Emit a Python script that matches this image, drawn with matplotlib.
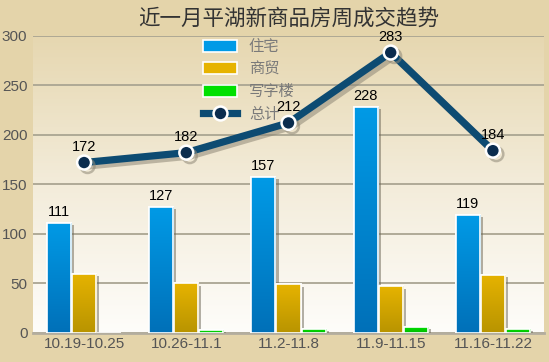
import numpy as np
import matplotlib.pyplot as plt
import matplotlib.patheffects as pe
from matplotlib.patches import Patch
from matplotlib.lines import Line2D
from matplotlib.colors import LinearSegmentedColormap

plt.rcParams['font.family'] = ['Liberation Sans', 'Noto Sans CJK SC', 'DejaVu Sans']

weeks = ['10.19-10.25', '10.26-11.1', '11.2-11.8', '11.9-11.15', '11.16-11.22']
residential = [111, 127, 157, 228, 119]
commercial = [60, 50, 49, 47, 59]
office = [0, 3, 4, 6, 4]
total = [172, 182, 212, 283, 184]
series_names = ['住宅', '商贸', '写字楼', '总计']

# gradient colours (top, bottom) per bar series
bar_styles = [
    ('#009ae6', '#0070b8'),
    ('#e6b300', '#b89400'),
    ('#00e000', '#00b800'),
]

outer_bg = '#e4d4aa'
fig = plt.figure(figsize=(5.49, 3.62), dpi=100, facecolor=outer_bg)
ax = fig.add_axes([33 / 549, 29 / 362, 511 / 549, 297.3 / 362])
ax.set_facecolor('none')

# plot area gradient background
bg = LinearSegmentedColormap.from_list('bg', ['#fefdfa', '#f3ecda', '#e6d7b0'])
grad = np.linspace(0, 1, 256).reshape(-1, 1)
ax.imshow(grad, cmap=bg, aspect='auto', extent=[0, 1, 0, 1], origin='lower',
          transform=ax.transAxes, zorder=0)

x = np.arange(len(weeks))
width = 0.235
offsets = [-0.245, 0, 0.245]
shadow = [pe.SimplePatchShadow(offset=(2.2, -1.5), shadow_rgbFace='#6b6555', alpha=0.5), pe.Normal()]

for vals, off, (ctop, cbot) in zip([residential, commercial, office], offsets, bar_styles):
    cmap = LinearSegmentedColormap.from_list('g', [cbot, ctop])
    bars = ax.bar(x + off, vals, width, color=ctop, edgecolor='white', linewidth=1.2,
                  zorder=3, path_effects=shadow)
    for b, v in zip(bars, vals):
        if v <= 0:
            continue
        x0, w, h = b.get_x(), b.get_width(), b.get_height()
        im = ax.imshow(grad, cmap=cmap, aspect='auto', extent=[x0, x0 + w, 0, h],
                       origin='lower', zorder=3.1)
        im.set_clip_path(b)
        ax.bar(b.get_x() + w / 2, h, w, color='none', edgecolor='white', linewidth=1.2, zorder=3.2)

for xi, v in zip(x + offsets[0], residential):
    ax.annotate(str(v), (xi, v), xytext=(0, 3), textcoords='offset points',
                ha='center', va='bottom', fontsize=10.5, color='black', zorder=6)

ax.plot(x, total, color='#0d4b72', lw=5.2, marker='o', markersize=10,
        markerfacecolor='#0a2c4e', markeredgecolor='white', markeredgewidth=1.8,
        solid_capstyle='round', zorder=5,
        path_effects=[pe.SimpleLineShadow(offset=(2.5, -2.5), shadow_color='#8f8877', alpha=0.55),
                      pe.Normal()])
for xi, v in zip(x, total):
    ax.annotate(str(v), (xi, v), xytext=(0, 6.5), textcoords='offset points',
                ha='center', va='bottom', fontsize=10.5, color='black', zorder=6)

ax.set_xlim(-0.5, 4.5)
ax.set_ylim(0, 300)
ax.set_yticks(range(0, 301, 50))
ax.set_xticks(x)
ax.set_xticklabels(weeks)
ax.yaxis.grid(True, color='#aaa592', lw=1.3, zorder=1)
ax.set_axisbelow(True)
for s in ['top', 'right', 'left']:
    ax.spines[s].set_visible(False)
ax.spines['bottom'].set_color('#b3ad9e')
ax.spines['bottom'].set_linewidth(2)
ax.spines['bottom'].set_zorder(2)
ax.tick_params(axis='both', length=0, labelsize=11, labelcolor='#555555')
ax.tick_params(axis='y', pad=4)
ax.tick_params(axis='x', pad=3)

handles = [Patch(facecolor=c[0], edgecolor='white', linewidth=1.2) for c in bar_styles]
handles.append(Line2D([], [], color='#0d4b72', lw=5.2, marker='o', markersize=10,
                      markerfacecolor='#0a2c4e', markeredgecolor='white', markeredgewidth=1.8))
leg = ax.legend(handles, series_names, loc='upper left', bbox_to_anchor=(203 / 549, 1 - 38 / 362),
                bbox_transform=fig.transFigure, frameon=False,
                handlelength=2.2, handleheight=0.8, labelspacing=0.36, handletextpad=0.8,
                borderpad=0, borderaxespad=0,
                prop={'family': ['Noto Sans CJK SC'], 'size': 11})
for t in leg.get_texts():
    t.set_color('#7a7a7a')
leg.set_zorder(4)

fig.text(0.525, 1 - 19 / 362, '近一月平湖新商品房周成交趋势', ha='center', va='center',
         fontsize=15.5, color='#333333', family=['Noto Sans CJK SC'])

fig.savefig('out.png', dpi=100, facecolor=outer_bg)
